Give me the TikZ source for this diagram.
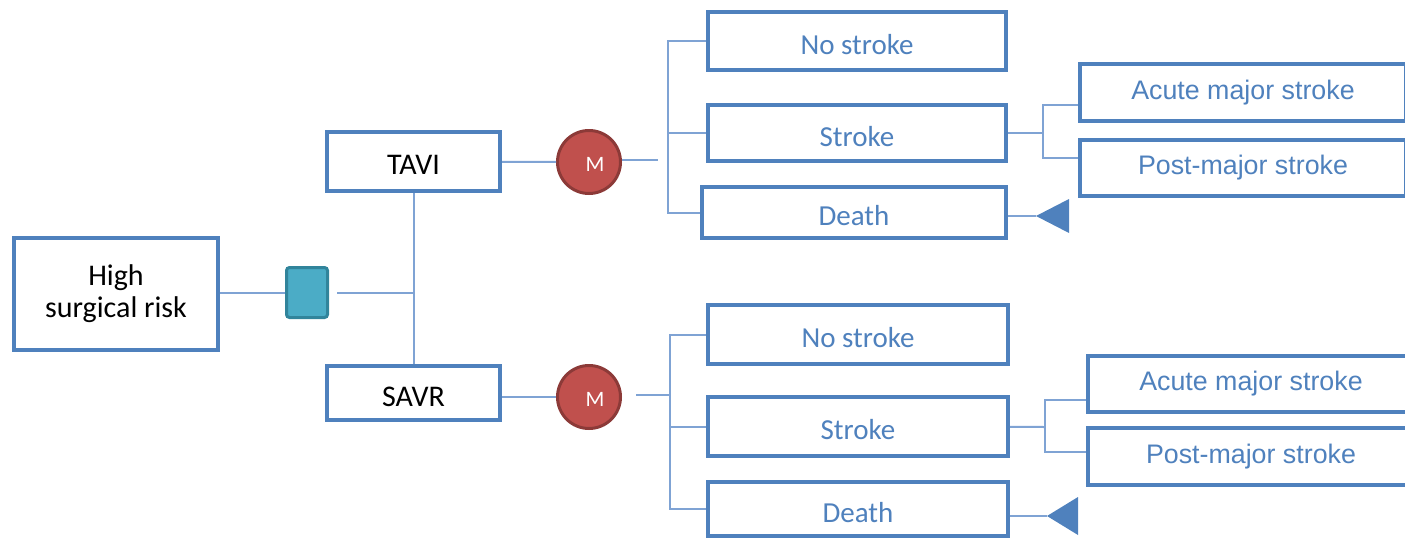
\documentclass[tikz,border=0pt]{standalone}
\usepackage{fontspec}
\setmainfont{Carlito}
\newfontfamily\arialfont{Liberation Sans}
\definecolor{dtBlue}{HTML}{4F81BD}
\definecolor{dtLine}{HTML}{7FA3D4}
\definecolor{dtRed}{HTML}{C0504D}
\definecolor{dtRedDark}{HTML}{8C3A38}
\definecolor{dtTeal}{HTML}{4BACC6}
\definecolor{dtTealDark}{HTML}{31849B}
\begin{document}
\begin{tikzpicture}[
    x=0.5pt, y=-0.5pt,
    dtBox/.style={draw=dtBlue, line width=2pt, fill=white, inner sep=0pt, text=dtBlue,
        text height=13pt, text depth=0pt, font=\fontsize{14.5}{17}\selectfont},
    dtRoot/.style={dtBox, text=black, font=\fontsize{15}{16}\selectfont},
    dtSub/.style={dtBox, minimum width=163pt, text height=10pt, text depth=3pt,
        font=\arialfont\fontsize{13.4}{16}\selectfont},
    dtLink/.style={draw=dtLine, line width=1pt},
    dtChance/.style={circle, draw=dtRedDark, fill=dtRed, line width=1.5pt, minimum size=31.5pt,
        inner sep=0pt, text=white, text height=9pt, text depth=0pt, font=\fontsize{11}{12}\selectfont},
    dtDecision/.style={rectangle, rounded corners=1.5pt, draw=dtTealDark, fill=dtTeal, line width=1.5pt,
        minimum width=20.5pt, minimum height=25pt},
    dtTerm/.style={fill=dtBlue}
]
\path[use as bounding box, clip] (0,0) rectangle (1405,541);

\node[draw=dtBlue, line width=2pt, inner sep=0pt, minimum width=102pt, minimum height=56pt,
    align=center, font=\fontsize{15}{16}\selectfont] (risk) at (116,294) {High\\surgical risk};
\node[dtDecision] (dec) at (307,292.5) {};
\node[dtRoot, minimum width=86.5pt, minimum height=29.5pt] (tavi) at (413.5,161.5) {TAVI};
\node[dtRoot, minimum width=86.5pt, minimum height=27pt] (savr) at (413.5,393) {SAVR};
\node[dtChance] (mTop) at (589,162) {\hspace{6pt}M};
\node[dtChance] (mBot) at (589,397) {\hspace{6pt}M};

\node[dtBox, minimum width=149pt, minimum height=29pt] (noTop) at (857,41) {No stroke};
\node[dtBox, minimum width=149pt, minimum height=28pt] (strokeTop) at (857,133) {Stroke};
\node[dtBox, minimum width=152pt, minimum height=25.5pt] (deathTop) at (854,212.5) {Death};
\node[dtSub, minimum height=28.5pt] (acuteTop) at (1243,92.5) {Acute major stroke};
\node[dtSub, minimum height=28pt] (postTop) at (1243,167.5) {Post-major stroke};

\node[dtBox, minimum width=150pt, minimum height=29.5pt] (noBot) at (858,334.5) {No stroke};
\node[dtBox, minimum width=150pt, minimum height=29.5pt] (strokeBot) at (858,426.5) {Stroke};
\node[dtBox, minimum width=150pt, minimum height=27pt] (deathBot) at (858,509) {Death};
\node[dtSub, minimum height=28pt] (acuteBot) at (1251,383.5) {Acute major stroke};
\node[dtSub, minimum height=28.5pt] (postBot) at (1251,456) {Post-major stroke};

\coordinate (spine) at (tavi.south |- dec);
\coordinate (forkTop) at (668,160);
\coordinate (forkBot) at (670,395);
\coordinate (sfTop) at (1043,133);
\coordinate (sfBot) at (1045,427);
\coordinate (tTop) at (1036,216);
\coordinate (tBot) at (1047,516);

\draw[dtLink] (risk.east |- dec.west) -- (dec.west);
\draw[dtLink, shorten <=4pt] (dec.east) -- (spine);
\draw[dtLink] (tavi) -- (savr);
\draw[dtLink] (tavi) -- (mTop);
\draw[dtLink] (savr.east |- mBot) -- (mBot);

\draw[dtLink, shorten >=5pt] (mTop.east |- forkTop) -- (forkTop);
\draw[dtLink] (noTop.west) -| (forkTop) |- (deathTop.west);
\draw[dtLink] (strokeTop.west) -- (strokeTop.west -| forkTop);
\draw[dtLink] (strokeTop) -- (sfTop);
\draw[dtLink] ([yshift=-6.25pt]acuteTop.west) -| (sfTop) |- ([yshift=4.75pt]postTop.west);
\draw[dtLink] (deathTop.east |- tTop) -- (tTop);
\fill[dtTerm] (tTop) -- ++(33,-17) -- ++(0,34) -- cycle;

\draw[dtLink, shorten <=7pt] (mBot.east |- forkBot) -- (forkBot);
\draw[dtLink] (noBot.west) -| (forkBot) |- (deathBot.west);
\draw[dtLink] (strokeBot.west) -- (strokeBot.west -| forkBot);
\draw[dtLink] (strokeBot) -- (sfBot);
\draw[dtLink] ([yshift=-8.25pt]acuteBot.west) -| (sfBot) |- ([yshift=2pt]postBot.west);
\draw[dtLink] (deathBot.east |- tBot) -- (tBot);
\fill[dtTerm] (tBot) -- ++(31,-19) -- ++(0,38) -- cycle;
\end{tikzpicture}
\end{document}
